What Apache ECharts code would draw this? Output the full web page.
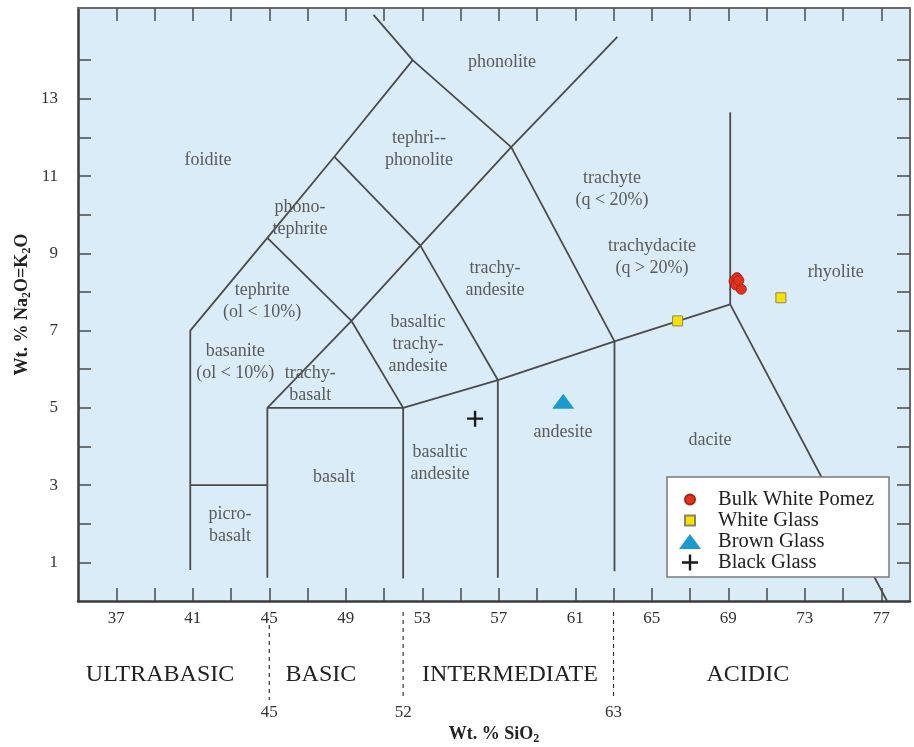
<!DOCTYPE html>
<html>
<head>
<meta charset="utf-8">
<title>TAS diagram</title>
<script src="https://cdn.jsdelivr.net/npm/echarts@6/dist/echarts.min.js"></script>
<style>
  html, body { margin: 0; padding: 0; background: #ffffff; }
  #chart { width: 914px; height: 747px; }
</style>
</head>
<body>
<div id="chart"></div>
<script>
// Total alkali vs. silica (TAS) classification with the analysed samples.

// Axis ticks and labels (wt. %)
const silicaTicks = [37, 39, 41, 43, 45, 47, 49, 51, 53, 55, 57, 59, 61, 63, 65, 67, 69, 71, 73, 75, 77];
const silicaLabels = [37, 41, 45, 49, 53, 57, 61, 65, 69, 73, 77];
const alkaliTicks = [1, 2, 3, 4, 5, 6, 7, 8, 9, 10, 11, 12, 13, 14];
const alkaliLabels = [1, 3, 5, 7, 9, 11, 13];

// Field boundaries, each a polyline of [SiO2, Na2O+K2O] vertices
const foiditeBoundary = [[40.87, 0.8], [40.87, 7], [44.9, 9.4], [48.4, 11.5], [52.5, 14]];
const phonoliteBoundary = [[50.45, 15.17], [52.5, 14], [57.65, 11.75], [63.05, 6.72], [63.05, 0.77]];
const trachyteBoundary = [[57.65, 11.75], [63.2, 14.6]];
const picrobasaltTop = [[40.87, 3], [44.9, 3]];
const basaltOutline = [[44.9, 0.6], [44.9, 5], [52, 5], [52, 0.58]];
const subalkalineDivide = [[44.9, 9.4], [49.3, 7.25], [52, 5], [56.95, 5.72], [63.05, 6.72], [69.1, 7.68], [77.3, 0]];
const trachybasaltTop = [[44.9, 5], [49.3, 7.25], [52.9, 9.2], [57.65, 11.75]];
const andesiteBoundary = [[48.4, 11.5], [52.9, 9.2], [56.95, 5.72], [56.95, 0.6]];
const rhyoliteBoundary = [[69.1, 12.65], [69.1, 7.68]];
const fieldBoundaries = [foiditeBoundary, phonoliteBoundary, trachyteBoundary, picrobasaltTop,
  basaltOutline, subalkalineDivide, trachybasaltTop, andesiteBoundary, rhyoliteBoundary];

// Rock field names
const fieldNames = ['phonolite', 'foidite', 'tephri--\nphonolite', 'trachyte\n(q < 20%)', 'phono-\ntephrite',
  'trachydacite\n(q > 20%)', 'trachy-\nandesite', 'rhyolite', 'tephrite\n(ol < 10%)',
  'basaltic\ntrachy-\nandesite', 'basanite\n(ol < 10%)', 'trachy-\nbasalt', 'dacite', 'andesite',
  'basaltic\nandesite', 'basalt', 'picro-\nbasalt'];

// Sample analyses [SiO2, Na2O+K2O]
const bulkWhitePomez = [[69.3, 8.28], [69.45, 8.37], [69.4, 8.18], [69.68, 8.07], [69.55, 8.3]];
const whiteGlass = [[66.35, 7.25], [71.75, 7.85]];
const brownGlass = [[60.37, 5.17]];
const blackGlass = [[55.76, 4.72]];

// Silica classes and their limits
const silicaClassNames = ['ULTRABASIC', 'BASIC', 'INTERMEDIATE', 'ACIDIC'];
const silicaClassLimits = [45, 52, 63];

// ---- layout and styling ----
const SERIF = "'Liberation Serif', 'Times New Roman', serif";
const LINE_COLOR = '#4b4b4b';

// anchor of each field name, in data units (same order as fieldNames)
const fieldNameAnchors = [[57.17, 13.95], [41.8, 11.41], [52.83, 11.7], [62.92, 10.66], [46.61, 9.92],
  [65.01, 8.91], [56.8, 8.33], [74.62, 8.51], [44.63, 7.75], [52.78, 6.65], [43.22, 6.18],
  [47.14, 5.61], [68.04, 4.16], [60.36, 4.37], [53.93, 3.56], [48.39, 3.2], [42.95, 1.95]];
// centre of each silica class caption along the SiO2 axis
const silicaClassAnchors = [39.29, 47.7, 57.58, 70.02];

// legend icons drawn inside a 24 x 18 frame
const FRAME = 'M0,0L0.01,0Z M24,18L24.01,18Z ';
const ICON_CIRCLE = 'path://' + FRAME + 'M7,9 A5,5 0 1,0 17,9 A5,5 0 1,0 7,9 Z';
const ICON_SQUARE = 'path://' + FRAME + 'M7,4 L17,4 L17,14 L7,14 Z';
const ICON_TRIANGLE = 'path://' + FRAME + 'M12,1.5 L23,16.5 L1,16.5 Z';
const PLUS_SHAPE = 'M10.8,1 L13.2,1 L13.2,7.8 L20,7.8 L20,10.2 L13.2,10.2 L13.2,17 L10.8,17 L10.8,10.2 L4,10.2 L4,7.8 L10.8,7.8 Z';
const ICON_PLUS = 'path://' + FRAME + PLUS_SHAPE;

const chart = echarts.init(document.getElementById('chart'), null, { renderer: 'canvas' });

const boundarySeries = fieldBoundaries.map(function (pts) {
  return {
    type: 'line', data: pts, symbol: 'none', silent: true, z: 2,
    lineStyle: { color: LINE_COLOR, width: 1.8 }
  };
});

const fieldNameSeries = {
  type: 'custom', silent: true, z: 3,
  data: fieldNameAnchors,
  renderItem: function (params, api) {
    const p = api.coord([api.value(0), api.value(1)]);
    return {
      type: 'text', x: p[0], y: p[1],
      style: {
        text: fieldNames[params.dataIndex], fill: '#5a5a5a',
        fontFamily: SERIF, fontSize: 18, lineHeight: 22,
        align: 'center', verticalAlign: 'middle'
      }
    };
  }
};

const classLimitSeries = {
  type: 'custom', silent: true, clip: false, z: 3,
  data: silicaClassLimits.map(function (v) { return [v, 0]; }),
  renderItem: function (params, api) {
    const v = api.value(0);
    const p = api.coord([v, 0]);
    const start = silicaLabels.indexOf(v) >= 0 ? 24 : 11;
    return {
      type: 'group',
      children: [
        {
          type: 'line',
          shape: { x1: p[0], y1: p[1] + start, x2: p[0], y2: p[1] + 99 },
          style: { stroke: '#333', lineWidth: 1.2, lineDash: [4, 4] }
        },
        {
          type: 'text', x: p[0], y: p[1] + 112,
          style: {
            text: String(v), fill: '#333', fontFamily: SERIF, fontSize: 17,
            align: 'center', verticalAlign: 'middle'
          }
        }
      ]
    };
  }
};

const classNameSeries = {
  type: 'custom', silent: true, clip: false, z: 3,
  data: silicaClassAnchors.map(function (v) { return [v, 0]; }),
  renderItem: function (params, api) {
    const p = api.coord([api.value(0), 0]);
    return {
      type: 'text', x: p[0], y: p[1] + 74,
      style: {
        text: silicaClassNames[params.dataIndex], fill: '#222',
        fontFamily: SERIF, fontSize: 24,
        align: 'center', verticalAlign: 'middle'
      }
    };
  }
};

const sampleSeries = [
  {
    name: 'Bulk White Pomez', type: 'scatter', data: bulkWhitePomez, z: 5,
    symbol: 'circle', symbolSize: 10,
    itemStyle: { color: '#e5321f', borderColor: '#a52418', borderWidth: 1, opacity: 1 }
  },
  {
    name: 'White Glass', type: 'scatter', data: whiteGlass, z: 5,
    symbol: 'rect', symbolSize: 10,
    itemStyle: { color: '#f6e200', borderColor: '#8a8660', borderWidth: 1, opacity: 1 }
  },
  {
    name: 'Brown Glass', type: 'scatter', data: brownGlass, z: 5,
    symbol: 'triangle', symbolSize: [22, 15],
    itemStyle: { color: '#1b9ad2', opacity: 1 }
  },
  {
    name: 'Black Glass', type: 'scatter', data: blackGlass, z: 5,
    symbol: 'path://' + PLUS_SHAPE, symbolSize: [16, 16],
    itemStyle: { color: '#1a1a1a', opacity: 1 }
  }
];

const option = {
  animation: false,
  backgroundColor: '#ffffff',
  grid: {
    left: 78, right: 4, top: 8, bottom: 146,
    containLabel: false, outerBoundsMode: 'none',
    show: true, backgroundColor: '#d9ecf8', borderWidth: 0
  },
  legend: {
    data: [
      { name: 'Bulk White Pomez', icon: ICON_CIRCLE },
      { name: 'White Glass', icon: ICON_SQUARE },
      { name: 'Brown Glass', icon: ICON_TRIANGLE },
      { name: 'Black Glass', icon: ICON_PLUS }
    ],
    orient: 'vertical', left: 667, top: 477,
    backgroundColor: '#ffffff', borderColor: '#7a7a7a', borderWidth: 1.5,
    padding: [12, 15, 4, 10],
    itemWidth: 46, itemHeight: 18, itemGap: 0,
    selectedMode: false,
    textStyle: { fontFamily: SERIF, fontSize: 20.5, color: '#222', lineHeight: 19 }
  },
  xAxis: [
    {
      type: 'value', min: 35, max: 78.5, position: 'bottom',
      name: '{b|Wt. % SiO}{s|2}', nameLocation: 'middle', nameGap: 122, nameMoveOverlap: false,
      nameTextStyle: {
        rich: {
          b: { fontFamily: SERIF, fontSize: 18, fontWeight: 'bold', color: '#222', lineHeight: 22 },
          s: { fontFamily: SERIF, fontSize: 12, fontWeight: 'bold', color: '#222', lineHeight: 12, verticalAlign: 'bottom' }
        }
      },
      axisLine: { show: true, onZero: false, lineStyle: { color: '#3a3a3a', width: 2.5 } },
      axisTick: { show: true, inside: true, length: 13, customValues: silicaTicks, lineStyle: { color: '#4a4a4a', width: 1.5 } },
      axisLabel: { customValues: silicaLabels, margin: 9, fontFamily: SERIF, fontSize: 17, color: '#333' },
      splitLine: { show: false }
    },
    {
      type: 'value', min: 35, max: 78.5, position: 'top',
      axisLine: { show: true, onZero: false, lineStyle: { color: '#6a6a6a', width: 2 } },
      axisTick: { show: true, inside: true, length: 13, customValues: silicaTicks, lineStyle: { color: '#4a4a4a', width: 1.5 } },
      axisLabel: { show: false },
      splitLine: { show: false }
    }
  ],
  yAxis: [
    {
      type: 'value', min: 0, max: 15.35, position: 'left',
      name: '{b|Wt. % Na}{s|2}{b|O=K}{s|2}{b|O}', nameLocation: 'middle', nameGap: 45, nameMoveOverlap: false,
      nameTextStyle: {
        rich: {
          b: { fontFamily: SERIF, fontSize: 18, fontWeight: 'bold', color: '#222', lineHeight: 22 },
          s: { fontFamily: SERIF, fontSize: 12, fontWeight: 'bold', color: '#222', lineHeight: 12, verticalAlign: 'bottom' }
        }
      },
      axisLine: { show: true, onZero: false, lineStyle: { color: '#3a3a3a', width: 2.5 } },
      axisTick: { show: true, inside: true, length: 13, customValues: alkaliTicks, lineStyle: { color: '#4a4a4a', width: 1.5 } },
      axisLabel: { customValues: alkaliLabels, margin: 20, fontFamily: SERIF, fontSize: 17, color: '#333' },
      splitLine: { show: false }
    },
    {
      type: 'value', min: 0, max: 15.35, position: 'right',
      axisLine: { show: true, onZero: false, lineStyle: { color: '#6a6a6a', width: 2 } },
      axisTick: { show: true, inside: true, length: 13, customValues: alkaliTicks, lineStyle: { color: '#4a4a4a', width: 1.5 } },
      axisLabel: { show: false },
      splitLine: { show: false }
    }
  ],
  series: boundarySeries.concat([fieldNameSeries, classLimitSeries, classNameSeries], sampleSeries)
};

chart.setOption(option);
</script>
</body>
</html>
